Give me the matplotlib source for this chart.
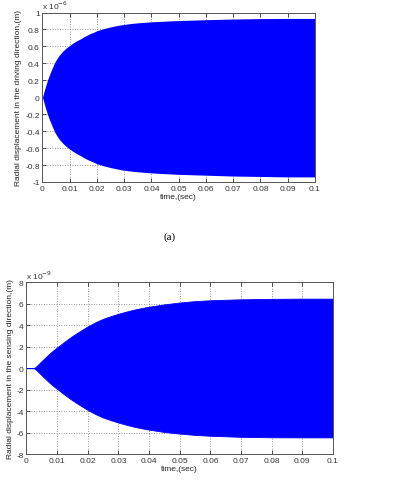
#Importando as bibliotecas
import matplotlib
matplotlib.use("Agg")
import matplotlib.pyplot as plt

#Envoltoria da resposta - direcao de acionamento (x 1e-6 m)
t_drive = [0, 0.0005, 0.001, 0.0018, 0.0025, 0.003, 0.0043, 0.005, 0.006, 0.0075, 0.0085,
           0.0097, 0.011, 0.0125, 0.014, 0.015, 0.0165, 0.0175, 0.019, 0.02, 0.0225, 0.025,
           0.0275, 0.029, 0.0325, 0.035, 0.04, 0.045, 0.05, 0.06, 0.07, 0.08, 0.09, 0.1]
upper_drive = [0, 0.06, 0.115, 0.2, 0.26, 0.3, 0.4, 0.44, 0.49, 0.545, 0.575,
               0.605, 0.635, 0.665, 0.69, 0.71, 0.735, 0.75, 0.77, 0.785, 0.81, 0.83,
               0.847, 0.855, 0.87, 0.878, 0.89, 0.898, 0.905, 0.915, 0.923, 0.928, 0.93, 0.93]
lower_drive = [0, -0.06, -0.115, -0.2, -0.26, -0.3, -0.4, -0.44, -0.49, -0.545, -0.575,
               -0.605, -0.635, -0.665, -0.69, -0.71, -0.735, -0.75, -0.77, -0.785, -0.81, -0.83,
               -0.847, -0.857, -0.872, -0.88, -0.893, -0.902, -0.91, -0.92, -0.93, -0.935, -0.94, -0.94]

#Envoltoria da resposta - direcao de sensoriamento (x 1e-9 m)
t_sense = [0, 0.002, 0.0025, 0.003, 0.0035, 0.004, 0.005, 0.006, 0.007, 0.008, 0.009,
           0.0105, 0.012, 0.0135, 0.015, 0.0165, 0.018, 0.02, 0.0225, 0.025, 0.0275, 0.03,
           0.0325, 0.035, 0.0375, 0.04, 0.045, 0.05, 0.055, 0.06, 0.07, 0.08, 0.09, 0.1]
upper_sense = [0, 0, 0.03, 0.12, 0.25, 0.4, 0.68, 0.95, 1.22, 1.48, 1.72,
               2.05, 2.38, 2.7, 3.0, 3.28, 3.55, 3.9, 4.28, 4.6, 4.85, 5.07,
               5.27, 5.45, 5.6, 5.73, 5.95, 6.12, 6.25, 6.33, 6.42, 6.46, 6.48, 6.48]
lower_sense = [0, 0, -0.03, -0.12, -0.25, -0.4, -0.68, -0.95, -1.22, -1.48, -1.72,
               -2.05, -2.38, -2.7, -3.0, -3.28, -3.55, -3.9, -4.28, -4.6, -4.85, -5.07,
               -5.27, -5.45, -5.6, -5.73, -5.95, -6.1, -6.22, -6.3, -6.4, -6.44, -6.45, -6.45]

#Rotulos dos eixos
x_ticks = [0, 0.01, 0.02, 0.03, 0.04, 0.05, 0.06, 0.07, 0.08, 0.09, 0.1]
x_labels = ["0", "0.01", "0.02", "0.03", "0.04", "0.05", "0.06", "0.07", "0.08", "0.09", "0.1"]
y_ticks_drive = [-1, -0.8, -0.6, -0.4, -0.2, 0, 0.2, 0.4, 0.6, 0.8, 1]
y_labels_drive = ["-1", "-0.8", "-0.6", "-0.4", "-0.2", "0", "0.2", "0.4", "0.6", "0.8", "1"]
y_ticks_sense = [-8, -6, -4, -2, 0, 2, 4, 6, 8]
y_labels_sense = ["-8", "-6", "-4", "-2", "0", "2", "4", "6", "8"]

plt.rcParams["font.family"] = ["Liberation Sans", "DejaVu Sans"]

fig = plt.figure(figsize=(3.96, 5.02), dpi=100)


def estilo(ax, yt, yl, ylabel, expoente):
    ax.set_xlim(0, 0.1)
    ax.set_xticks(x_ticks)
    ax.set_xticklabels(x_labels)
    ax.set_yticks(yt)
    ax.set_yticklabels(yl)
    ax.set_ylim(yt[0], yt[-1])
    ax.tick_params(direction="in", length=3, width=0.6, labelsize=6, pad=2,
                   top=True, right=True, colors="#333333")
    ax.grid(True, linestyle=(0, (1, 2)), color="#777777", linewidth=0.6)
    ax.set_axisbelow(True)
    for s in ax.spines.values():
        s.set_color("#555555")
        s.set_linewidth(0.7)
    ax.set_xlabel("time,(sec)", fontsize=6, labelpad=1, color="#222222")
    ax.set_ylabel(ylabel, fontsize=6, labelpad=2, color="#222222")
    ax.text(0.0, 1.01, "x 10$^{" + expoente + "}$", transform=ax.transAxes,
            fontsize=6, ha="left", va="bottom", color="#333333")


#Grafico (a) - direcao de acionamento
ax1 = fig.add_axes([0.1073, 0.6355, 0.688, 0.3376])
ax1.fill_between(t_drive, lower_drive, upper_drive, color="#0000FF", linewidth=0)
estilo(ax1, y_ticks_drive, y_labels_drive,
       "Radial displacement in the driving direction,(m)", "-6")

fig.text(170 / 396, 1 - 237 / 502, "(a)", fontsize=8, family="Liberation Serif",
         ha="center", va="center")

#Grafico (b) - direcao de sensoriamento
ax2 = fig.add_axes([0.0669, 0.0936, 0.774, 0.342])
ax2.fill_between(t_sense, lower_sense, upper_sense, color="#0000FF", linewidth=0.6,
                 edgecolor="#0000FF")
estilo(ax2, y_ticks_sense, y_labels_sense,
       "Radial displacement in the sensing direction,(m)", "-9")

#Salvando em png
plt.savefig("out.png", dpi=100)
